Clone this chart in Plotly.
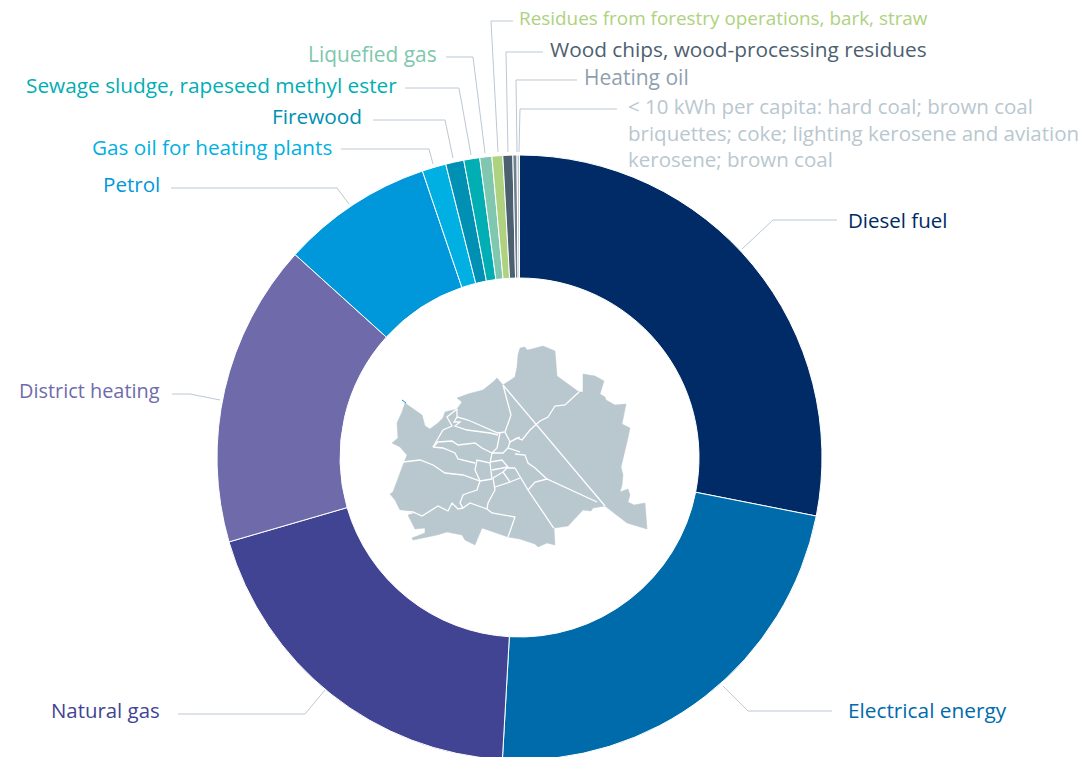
import plotly.graph_objects as go

W, H = 1085, 761

categories = ["Diesel fuel", "Electrical energy", "Natural gas", "District heating", "Petrol",
              "Gas oil for heating plants", "Firewood", "Sewage sludge, rapeseed methyl ester",
              "Liquefied gas", "Residues from forestry operations, bark, straw",
              "Wood chips, wood-processing residues", "Heating oil",
              "< 10 kWh per capita"]
values = [28.1, 22.8, 19.6, 16.2, 8.1, 1.28, 0.97, 0.85, 0.64, 0.58, 0.53, 0.22, 0.13]
slice_colors = ["#002b66", "#006bab", "#414492", "#6f6bab", "#0098da", "#00b0e2", "#0090b4",
                "#00aeb3", "#7fc7ae", "#aed280", "#4c6070", "#6e8190", "#b9c7cf"]

label_texts = ["Diesel fuel", "Electrical energy", "Natural gas", "District heating", "Petrol",
               "Gas oil for heating plants", "Firewood", "Sewage sludge, rapeseed methyl ester",
               "Liquefied gas", "Residues from forestry operations, bark, straw",
               "Wood chips, wood-processing residues", "Heating oil",
               "&lt; 10 kWh per capita: hard coal; brown coal<br>briquettes; coke; lighting kerosene and aviation<br>kerosene; brown coal"]
label_colors = ["#002b66", "#006bab", "#414492", "#6f6bab", "#0098da", "#00b0e2", "#0090b4",
                "#00aeb3", "#7fc7ae", "#aed280", "#4c6070", "#8f9fae", "#b9c7cf"]
label_sizes = [20.5, 20.8, 20.4, 19.9, 20.6, 20.7, 20.8, 20.8, 20.9, 18.9, 20.8, 21, 20.5]
label_pos = [(847, 220, "left"), (847, 710, "left"), (161, 710, "right"), (161, 390, "right"),
             (161, 184, "right"), (333, 147, "right"), (363, 116, "right"), (398, 85, "right"),
             (438, 54, "right"), (518, 18, "left"), (549, 49, "left"), (583, 77, "left"),
             (627, 132, "left")]

leaders = [
    [(837, 220), (773, 220), (742, 249)],
    [(832, 711), (748, 711), (723, 686)],
    [(178, 714), (305, 714), (325, 690)],
    [(172, 394), (190, 394), (220, 400)],
    [(171, 188), (337, 188), (349, 204)],
    [(341, 149), (429, 149), (433, 164)],
    [(373, 120), (445, 120), (453, 158)],
    [(405, 88), (459, 88), (471, 155)],
    [(446, 57), (473, 57), (485, 153)],
    [(513, 21), (491, 21), (498, 152)],
    [(543, 52), (506, 52), (508, 152)],
    [(577, 80), (516, 80), (517, 152)],
    [(617, 109), (520, 109), (519, 152)],
]

map_outline = [
    (520, 348), (525, 347), (527, 350), (532, 349), (543, 346), (555, 351), (557, 376), (579, 392),
    (583, 392), (583, 374), (595, 376), (604, 381), (600, 394), (605, 397), (606, 400), (615, 405),
    (626, 404), (622, 424), (630, 428), (627, 442), (621, 467), (623, 475), (622, 485), (620, 492),
    (628, 489), (630, 495), (628, 502), (634, 505), (645, 503), (647, 529), (627, 523), (605, 506),
    (593, 508), (591, 511), (583, 510), (568, 526), (554, 528), (555, 545), (547, 543), (538, 547),
    (535, 544), (520, 539), (508, 537), (482, 528), (477, 540), (475, 545), (465, 540), (462, 535),
    (447, 532), (437, 535), (413, 540), (412, 538), (425, 533), (425, 528), (415, 529), (408, 515),
    (415, 513), (400, 510), (395, 500), (390, 494), (393, 492), (403, 465), (407, 455), (400, 447),
    (392, 443), (398, 438), (397, 423), (402, 412), (405, 403), (422, 415), (425, 426), (430, 429),
    (438, 423), (443, 418), (445, 412), (457, 409), (462, 402), (457, 398), (468, 394), (483, 390),
    (493, 382), (497, 378), (503, 385), (515, 377), (517, 367), (518, 355),
]
map_borders = [
    [(503, 385), (605, 506)],
    [(579, 392), (565, 405), (555, 406), (548, 417), (540, 421), (530, 430), (522, 440), (517, 438), (510, 442)],
    [(597, 502), (547, 479), (535, 482), (528, 490), (553, 527), (554, 528)],
    [(547, 479), (535, 468), (528, 463), (525, 455), (515, 454)],
    [(515, 468), (528, 490)],
    [(403, 462), (420, 460), (433, 465), (445, 473), (463, 475), (480, 481), (492, 479)],
    [(480, 481), (475, 470), (477, 460), (490, 463)],
    [(480, 481), (477, 490), (468, 493), (463, 495), (460, 503), (463, 508), (470, 503), (487, 509),
     (488, 503), (495, 490), (493, 478)],
    [(487, 509), (492, 513), (515, 517), (508, 537)],
    [(400, 511), (413, 512), (422, 516), (438, 506), (448, 511), (452, 503), (458, 509), (463, 508)],
    [(433, 447), (438, 442), (452, 441), (458, 445), (475, 443), (482, 448), (492, 453)],
    [(433, 447), (443, 448), (455, 453), (458, 459), (475, 463)],
    [(492, 453), (490, 463), (492, 479)],
    [(492, 453), (503, 453), (508, 448), (520, 452)],
    [(490, 462), (502, 460), (508, 467), (492, 470)],
    [(493, 478), (503, 472), (510, 482), (495, 487)],
    [(510, 482), (520, 478)],
    [(503, 472), (507, 468), (515, 468)],
    [(433, 447), (443, 430), (452, 426), (447, 417), (457, 409)],
    [(457, 409), (457, 417), (454, 422), (460, 422), (455, 426), (467, 430), (490, 433), (498, 435)],
    [(457, 417), (468, 420), (498, 433), (505, 432), (511, 415), (503, 385)],
    [(505, 432), (510, 442), (520, 437)],
    [(500, 433), (497, 448), (492, 453)],
    [(510, 442), (508, 448)],
]
map_tick = [(402, 400), (406, 403)]


def to_paper(p):
    return p[0] / W, 1 - p[1] / H


def svg_path(points, close=False):
    coords = [to_paper(p) for p in points]
    d = "M" + " L".join(f"{x:.5f},{y:.5f}" for x, y in coords)
    return d + (" Z" if close else "")


CX, CY, R = 519.5, 457.5, 302.5

fig = go.Figure(go.Pie(
    labels=categories, values=values, sort=False, direction="clockwise", rotation=0,
    hole=179.5 / 302.5, textinfo="none", showlegend=False,
    marker=dict(colors=slice_colors, line=dict(color="#ffffff", width=1)),
    domain=dict(x=[(CX - R) / W, (CX + R) / W], y=[1 - (CY + R) / H, 1 - (CY - R) / H]),
))

shapes = [dict(type="path", xref="paper", yref="paper", path=svg_path(map_outline, True),
               fillcolor="#b9c7cf", line=dict(color="#b9c7cf", width=0.5), layer="above")]
for b in map_borders:
    shapes.append(dict(type="path", xref="paper", yref="paper", path=svg_path(b),
                       line=dict(color="#ffffff", width=1.3), layer="above"))
shapes.append(dict(type="path", xref="paper", yref="paper", path=svg_path(map_tick),
                   line=dict(color="#0090d0", width=1), layer="above"))
for l in leaders:
    shapes.append(dict(type="path", xref="paper", yref="paper", path=svg_path(l),
                       line=dict(color="#bcc8d2", width=1), layer="below"))

annotations = []
for text, col, size, (x, y, side) in zip(label_texts, label_colors, label_sizes, label_pos):
    px, py = to_paper((x, y))
    annotations.append(dict(x=px, y=py, xref="paper", yref="paper", text=text, showarrow=False,
                            xanchor=side, yanchor="middle", align="left",
                            font=dict(color=col, size=size, family="Open Sans"), borderpad=0))

fig.update_layout(width=W, height=H, margin=dict(l=0, r=0, t=0, b=0), paper_bgcolor="#ffffff",
                  shapes=shapes, annotations=annotations, showlegend=False)

fig.write_html("out.html", config={"displayModeBar": False},
               post_script="document.body.style.margin='0';document.documentElement.style.overflow='hidden';document.body.style.overflow='hidden';")
